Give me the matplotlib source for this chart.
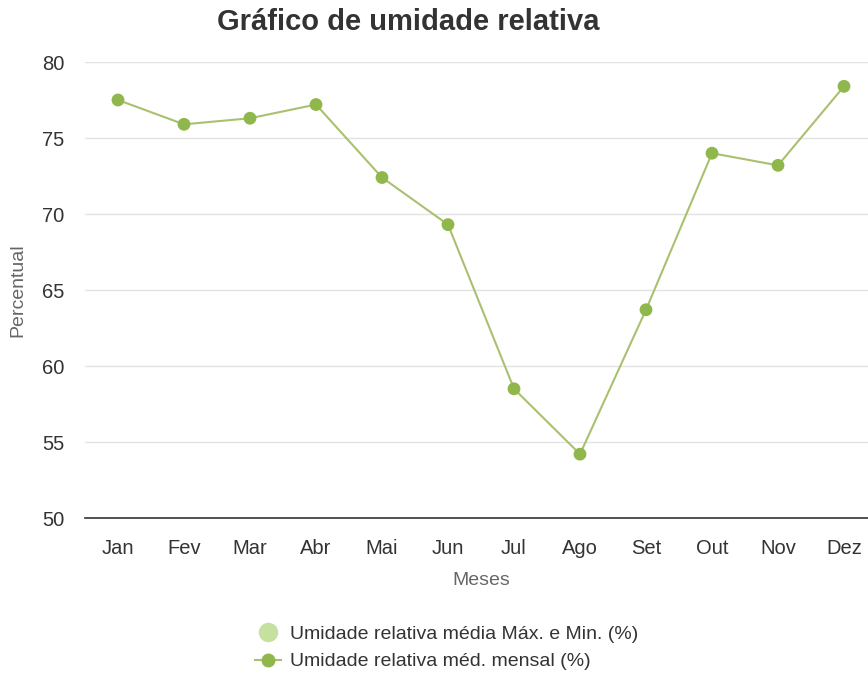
import matplotlib
matplotlib.use("Agg")
import matplotlib.pyplot as plt
from matplotlib.lines import Line2D

plt.rcParams['font.family'] = ['Liberation Sans', 'DejaVu Sans']

months = ['Jan', 'Fev', 'Mar', 'Abr', 'Mai', 'Jun', 'Jul', 'Ago', 'Set', 'Out', 'Nov', 'Dez']
humidity = [77.5, 75.9, 76.3, 77.2, 72.4, 69.3, 58.5, 54.2, 63.7, 74.0, 73.2, 78.4]
y_ticks = [50, 55, 60, 65, 70, 75, 80]

line_color = '#a9c16f'
marker_color = '#8fb74b'
band_color = '#c5e1a0'

fig = plt.figure(figsize=(8.68, 6.78), dpi=100)
ax = fig.add_axes([85 / 868, 1 - 518 / 678, 792 / 868, 456 / 678])

x = list(range(len(months)))
ax.plot(x, humidity, color=line_color, linewidth=1.5, zorder=3)
ax.scatter(x, humidity, s=85, color=marker_color, zorder=4, edgecolors='none')

ax.set_xlim(-0.5, 11.5)
ax.set_ylim(50, 80)
ax.set_yticks(y_ticks)
ax.set_xticks(x)
ax.set_xticklabels(months)
ax.tick_params(axis='both', length=0, labelsize=14.5, colors='#333333')
ax.tick_params(axis='x', pad=15)
ax.tick_params(axis='y', pad=15)

for v in y_ticks[1:]:
    ax.axhline(v, color='#e3e3e3', linewidth=1, zorder=1)
for side in ['top', 'right', 'left']:
    ax.spines[side].set_visible(False)
ax.spines['bottom'].set_color('#333333')
ax.spines['bottom'].set_linewidth(1.2)

ax.set_xlabel('Meses', fontsize=14, color='#666666', labelpad=10)
fig.text(18 / 868, 1 - 290 / 678, 'Percentual', rotation=90, fontsize=14,
         color='#666666', ha='center', va='center')

fig.text(408 / 868, 1 - 22 / 678, 'Gráfico de umidade relativa', fontsize=21,
         fontweight='bold', color='#333333', ha='center', va='center')

handles = [
    Line2D([], [], linestyle='none', marker='o', markersize=13, color=band_color),
    Line2D([], [], color=line_color, linewidth=1.5, marker='o', markersize=9,
           markerfacecolor=marker_color, markeredgecolor=marker_color),
]
labels = ['Umidade relativa média Máx. e Min. (%)', 'Umidade relativa méd. mensal (%)']
fig.legend(handles, labels, loc='center', bbox_to_anchor=(447 / 868, 1 - 648 / 678),
           frameon=False, fontsize=14, handlelength=1.3, handletextpad=0.5,
           labelspacing=0.5, labelcolor='#333333')

fig.savefig('out.png', dpi=100, facecolor='white')
